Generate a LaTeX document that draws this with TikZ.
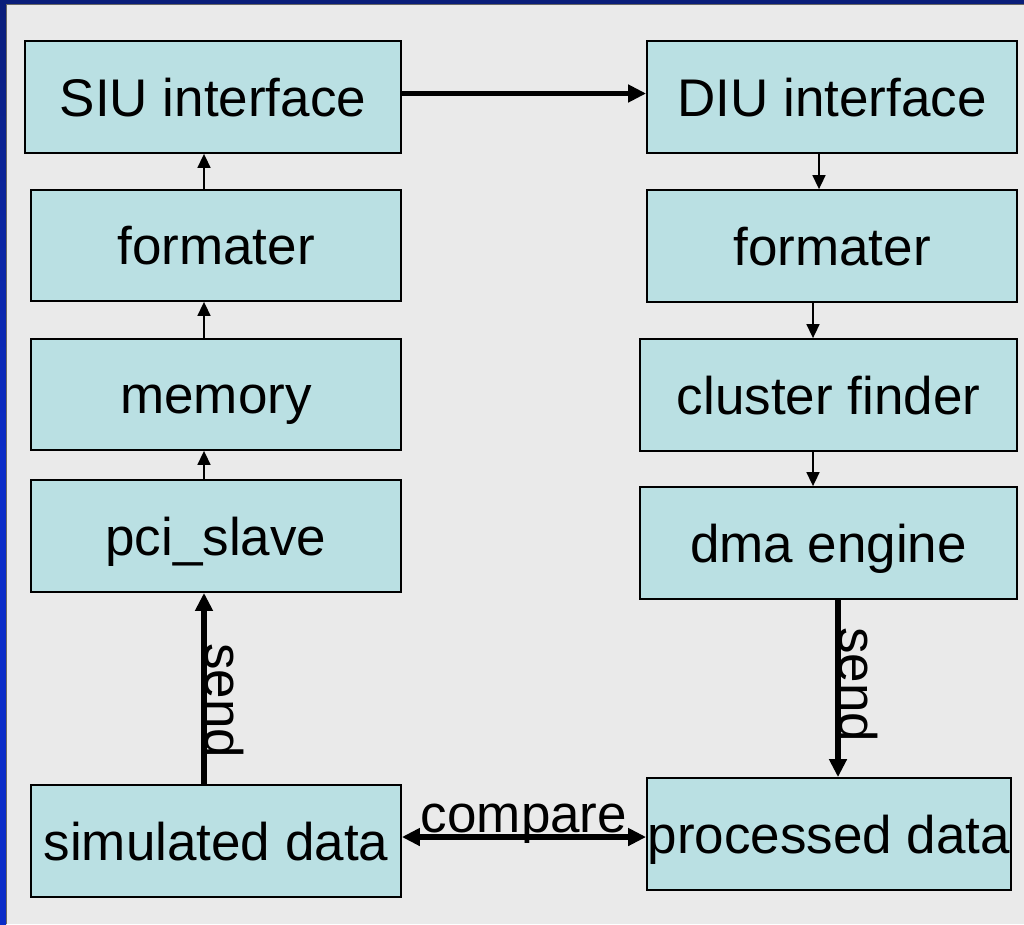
\documentclass[tikz,border=0pt]{standalone}
\usepackage{fontspec}
\setmainfont{Liberation Sans}
\usetikzlibrary{arrows.meta}
\definecolor{bg}{HTML}{EAEAEA}
\definecolor{boxfill}{HTML}{BAE0E3}
\definecolor{navy}{HTML}{0A1E7A}
\definecolor{brightblue}{HTML}{0A2CC8}
\tikzset{
  blk/.style={draw=black, line width=1.8pt, fill=boxfill, inner sep=0pt,
    font=\fontsize{53}{60}\selectfont, text height=38pt, text depth=0pt},
  thin/.style={line width=1.6pt, -{Triangle[length=14pt,width=13pt]}},
  thick/.style={line width=5.5pt, -{Triangle[length=18pt,width=17pt]}},
  lbl/.style={font=\fontsize{53}{60}\selectfont, inner sep=0pt}
}
\begin{document}
\begin{tikzpicture}[x=1pt,y=-1pt]
\useasboundingbox (0,0) rectangle (1024,924);
% background and frame
\fill[bg] (0,0) rectangle (1024,924);
\shade[top color=navy, bottom color=brightblue, middle color=brightblue] (0,0) rectangle (6,924);
\fill[navy] (0,0) rectangle (1024,4);
\draw[line width=1pt, black!60] (6.5,4) -- (6.5,924);
\draw[line width=1pt, black!60] (6.5,4.5) -- (1024,4.5);
% left column
\node[blk, minimum width=376pt, minimum height=112pt] (siu) at (213,97) {SIU interface};
\node[blk, minimum width=370pt, minimum height=111pt] (lfmt) at (216,245.5) {formater};
\node[blk, minimum width=370pt, minimum height=111pt] (mem) at (216,394.5) {memory};
\node[blk, minimum width=370pt, minimum height=112pt] (pci) at (216,536) {pci\_slave};
\node[blk, minimum width=370pt, minimum height=112pt] (sim) at (216,841) {simulated data};
% right column
\node[blk, minimum width=370pt, minimum height=112pt] (diu) at (832,97) {DIU interface};
\node[blk, minimum width=370pt, minimum height=112pt] (rfmt) at (832,246) {formater};
\node[blk, minimum width=377pt, minimum height=112pt] (cf) at (828.5,395) {cluster finder};
\node[blk, minimum width=377pt, minimum height=112pt] (dma) at (828.5,543) {dma engine};
\node[blk, minimum width=364pt, minimum height=112pt] (proc) at (829,834) {processed data};
% guide coordinates
\coordinate (xl) at (204,0);
\coordinate (xr1) at (819,0);
\coordinate (xr2) at (813,0);
\coordinate (xr3) at (838,0);
\coordinate (yt) at (0,93.5);
\coordinate (yc) at (0,837);
% left column arrows
\draw[thin] (lfmt.north -| xl) -- (siu.south -| xl);
\draw[thin] (mem.north -| xl) -- (lfmt.south -| xl);
\draw[thin] (pci.north -| xl) -- (mem.south -| xl);
\draw[thick] (sim.north -| xl) -- (pci.south -| xl);
\node[lbl, rotate=-90, anchor=base west] (send1) at (205,643) {send};
% right column arrows
\draw[thin] (diu.south -| xr1) -- (rfmt.north -| xr1);
\draw[thin] (rfmt.south -| xr2) -- (cf.north -| xr2);
\draw[thin] (cf.south -| xr2) -- (dma.north -| xr2);
\draw[thick] (dma.south -| xr3) -- (proc.north -| xr3);
\node[lbl, rotate=-90, anchor=base west] (send2) at (839,627) {send};
% horizontal arrows
\draw[thick] (siu.east |- yt) -- (diu.west |- yt);
\draw[thick, {Triangle[length=18pt,width=17pt]}-{Triangle[length=18pt,width=17pt]}] (sim.east |- yc) -- (proc.west |- yc)
  node[lbl, pos=0.5, anchor=base, yshift=5pt] (cmp) {compare};
\end{tikzpicture}
\end{document}
